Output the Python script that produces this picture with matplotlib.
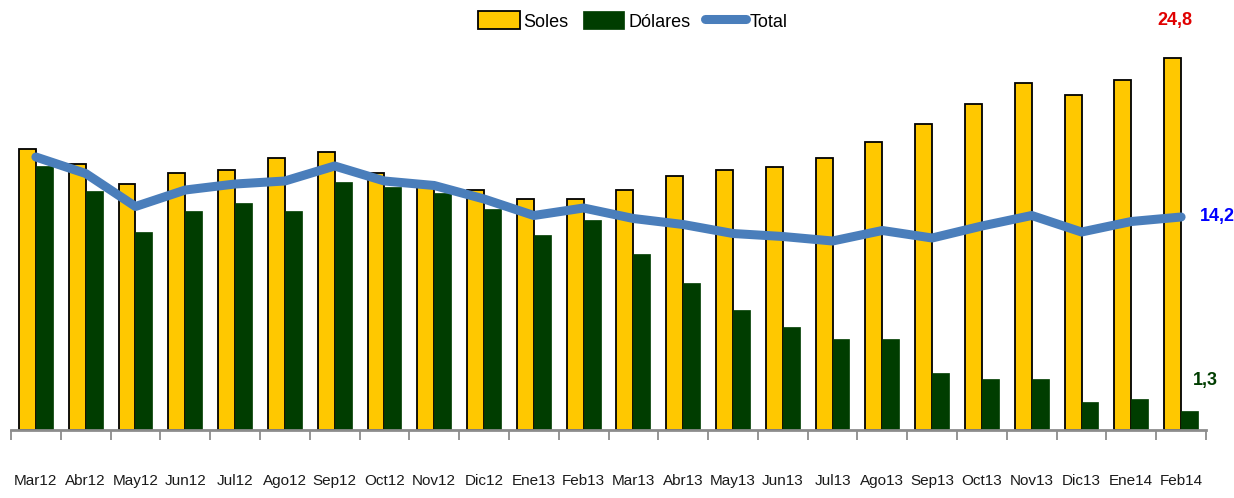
import numpy as np
import matplotlib.pyplot as plt
from matplotlib.ticker import FixedLocator

plt.switch_backend('AGG')
plt.rcParams['font.family'] = ['Liberation Sans', 'DejaVu Sans']

meses = ['Mar12', 'Abr12', 'May12', 'Jun12', 'Jul12', 'Ago12', 'Sep12', 'Oct12',
         'Nov12', 'Dic12', 'Ene13', 'Feb13', 'Mar13', 'Abr13', 'May13', 'Jun13',
         'Jul13', 'Ago13', 'Sep13', 'Oct13', 'Nov13', 'Dic13', 'Ene14', 'Feb14']
soles = [18.7, 17.7, 16.4, 17.1, 17.3, 18.1, 18.5, 17.1, 16.5, 16.0, 15.4, 15.4,
         16.0, 16.9, 17.3, 17.5, 18.1, 19.2, 20.4, 21.7, 23.1, 22.3, 23.3, 24.8]
dolares = [17.6, 15.9, 13.2, 14.6, 15.1, 14.6, 16.5, 16.2, 15.8, 14.7, 13.0, 14.0,
           11.7, 9.8, 8.0, 6.9, 6.1, 6.1, 3.8, 3.4, 3.4, 1.9, 2.1, 1.3]
total = [18.2, 17.1, 14.9, 16.0, 16.4, 16.6, 17.6, 16.6, 16.3, 15.4, 14.3, 14.8,
         14.1, 13.7, 13.1, 12.9, 12.6, 13.3, 12.8, 13.6, 14.3, 13.2, 13.9, 14.2]

x = np.arange(len(meses))
w = 0.34

fig = plt.figure(figsize=(12.34, 4.98), dpi=100)
ax = fig.add_axes([11 / 1234, 68 / 498, 1195 / 1234, 390 / 498])

b1 = ax.bar(x - w / 2, soles, width=w, color='#FFC800', edgecolor='black',
            linewidth=1.3, label='Soles', zorder=2)
b2 = ax.bar(x + w / 2, dolares, width=w, color='#003D00', edgecolor='#003D00',
            linewidth=0.5, label='Dólares', zorder=2)
l1, = ax.plot(x, total, color='#4A7EBB', linewidth=6.5, solid_capstyle='round',
              solid_joinstyle='round', label='Total', zorder=3)

ax.set_xlim(-0.5, len(meses) - 0.5)
ax.set_ylim(0, 26)

for s in ['top', 'right', 'left']:
    ax.spines[s].set_visible(False)
ax.spines['bottom'].set_color('#8C8C8C')
ax.spines['bottom'].set_linewidth(2)
ax.set_yticks([])

# marcas entre categorias, etiquetas en el centro
ax.xaxis.set_major_locator(FixedLocator(np.arange(-0.5, len(meses), 1.0)))
ax.xaxis.set_minor_locator(FixedLocator(x))
ax.tick_params(axis='x', which='major', length=7, width=1.3, color='#8C8C8C',
               labelbottom=False)
ax.tick_params(axis='x', which='minor', length=0, pad=32, labelsize=11,
               labelcolor='#1A1A1A')
ax.set_xticklabels(meses, minor=True)

# valores finales
ax.text(22.87, 27.3, '24,8', color='#E00000', fontsize=13,
        fontweight='bold', ha='center', va='center')
ax.text(23.38, total[-1], '14,2', color='#0000FF', fontsize=13,
        fontweight='bold', ha='left', va='center')
ax.text(23.48, 3.33, '1,3', color='#003D00', fontsize=13,
        fontweight='bold', ha='center', va='center')

fig.legend([b1, b2, l1], ['Soles', 'Dólares', 'Total'], loc='center',
           bbox_to_anchor=(633 / 1234, 1 - 21 / 498), ncol=3,
           frameon=False, fontsize=13, handlelength=2.3, handleheight=1.15,
           handletextpad=0.2, columnspacing=0.8)

fig.savefig('out.png', dpi=100)
